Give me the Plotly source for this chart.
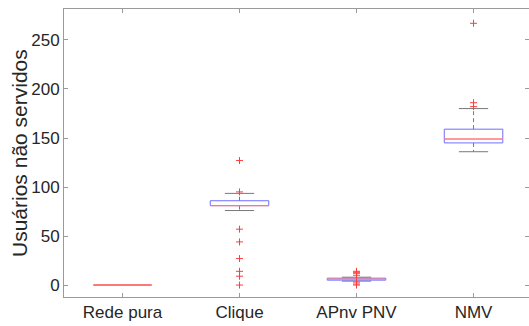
import plotly.graph_objects as go

categories = ["Rede pura", "Clique", "APnv PNV", "NMV"]
q1 = [0, 81, 5, 145]
median = [0, 81, 6, 149]
q3 = [0, 86, 7, 159]
whisker_low = [0, 76, 4, 136]
whisker_high = [0, 93.5, 8, 180]
outliers = [
    [],
    [127, 95, 57, 44, 27, 14, 9, 0],
    [0, 1, 3, 10, 12, 13, 14],
    [267, 186, 182],
]
y_ticks = [0, 50, 100, 150, 200, 250]
y_title = "Usuários não servidos"

BOX_HALF = 0.25
CAP_HALF = 0.125
box_col = "rgb(110,110,255)"
med_col = "rgb(255,120,120)"
wh_col = "rgb(120,120,120)"

fig = go.Figure()
for i, cat in enumerate(categories):
    x = i + 1
    has_spread = whisker_high[i] > whisker_low[i]
    if has_spread:
        fig.add_trace(go.Scatter(
            x=[x, x, None, x, x], y=[q3[i], whisker_high[i], None, q1[i], whisker_low[i]],
            mode="lines", line=dict(color=wh_col, width=1, dash="4px,3px"),
            hoverinfo="skip", showlegend=False))
        fig.add_trace(go.Scatter(
            x=[x - CAP_HALF, x + CAP_HALF, None, x - CAP_HALF, x + CAP_HALF],
            y=[whisker_high[i], whisker_high[i], None, whisker_low[i], whisker_low[i]],
            mode="lines", line=dict(color=wh_col, width=1),
            hoverinfo="skip", showlegend=False))
    if q3[i] > q1[i]:
        fig.add_trace(go.Scatter(
            x=[x - BOX_HALF, x + BOX_HALF, x + BOX_HALF, x - BOX_HALF, x - BOX_HALF],
            y=[q1[i], q1[i], q3[i], q3[i], q1[i]],
            mode="lines", line=dict(color=box_col, width=1),
            hoverinfo="skip", showlegend=False))
    fig.add_trace(go.Scatter(
        x=[x - BOX_HALF, x + BOX_HALF], y=[median[i], median[i]],
        mode="lines", line=dict(color=med_col, width=1.3 if has_spread else 2),
        hoverinfo="skip", showlegend=False))
    if outliers[i]:
        fig.add_trace(go.Scatter(
            x=[x] * len(outliers[i]), y=outliers[i], mode="markers",
            marker=dict(symbol="cross-thin", size=5, line=dict(color="rgb(255,60,60)", width=1)),
            hoverinfo="skip", showlegend=False))

axis_common = dict(
    showgrid=False, zeroline=False, showline=True, mirror="ticks",
    linecolor="#9a9a9a", linewidth=1, ticks="inside", ticklen=4,
    tickcolor="#9a9a9a", tickfont=dict(family="Liberation Sans, Arial", size=17, color="#262626"),
)

fig.update_layout(
    width=529, height=326,
    margin=dict(l=64, r=0, t=9, b=29),
    paper_bgcolor="white", plot_bgcolor="white",
    xaxis=dict(range=[0.5, 4.474], tickvals=[1, 2, 3, 4], ticktext=categories, **axis_common),
    yaxis=dict(range=[-12.2, 281.6], tickvals=y_ticks, **axis_common),
    annotations=[dict(
        text=y_title, textangle=-90, xref="paper", yref="paper",
        x=-0.0968, y=0.5, xanchor="center", yanchor="middle", showarrow=False,
        font=dict(family="Liberation Sans, Arial", size=21, color="#262626"))],
)

fig.write_html("out.html")
